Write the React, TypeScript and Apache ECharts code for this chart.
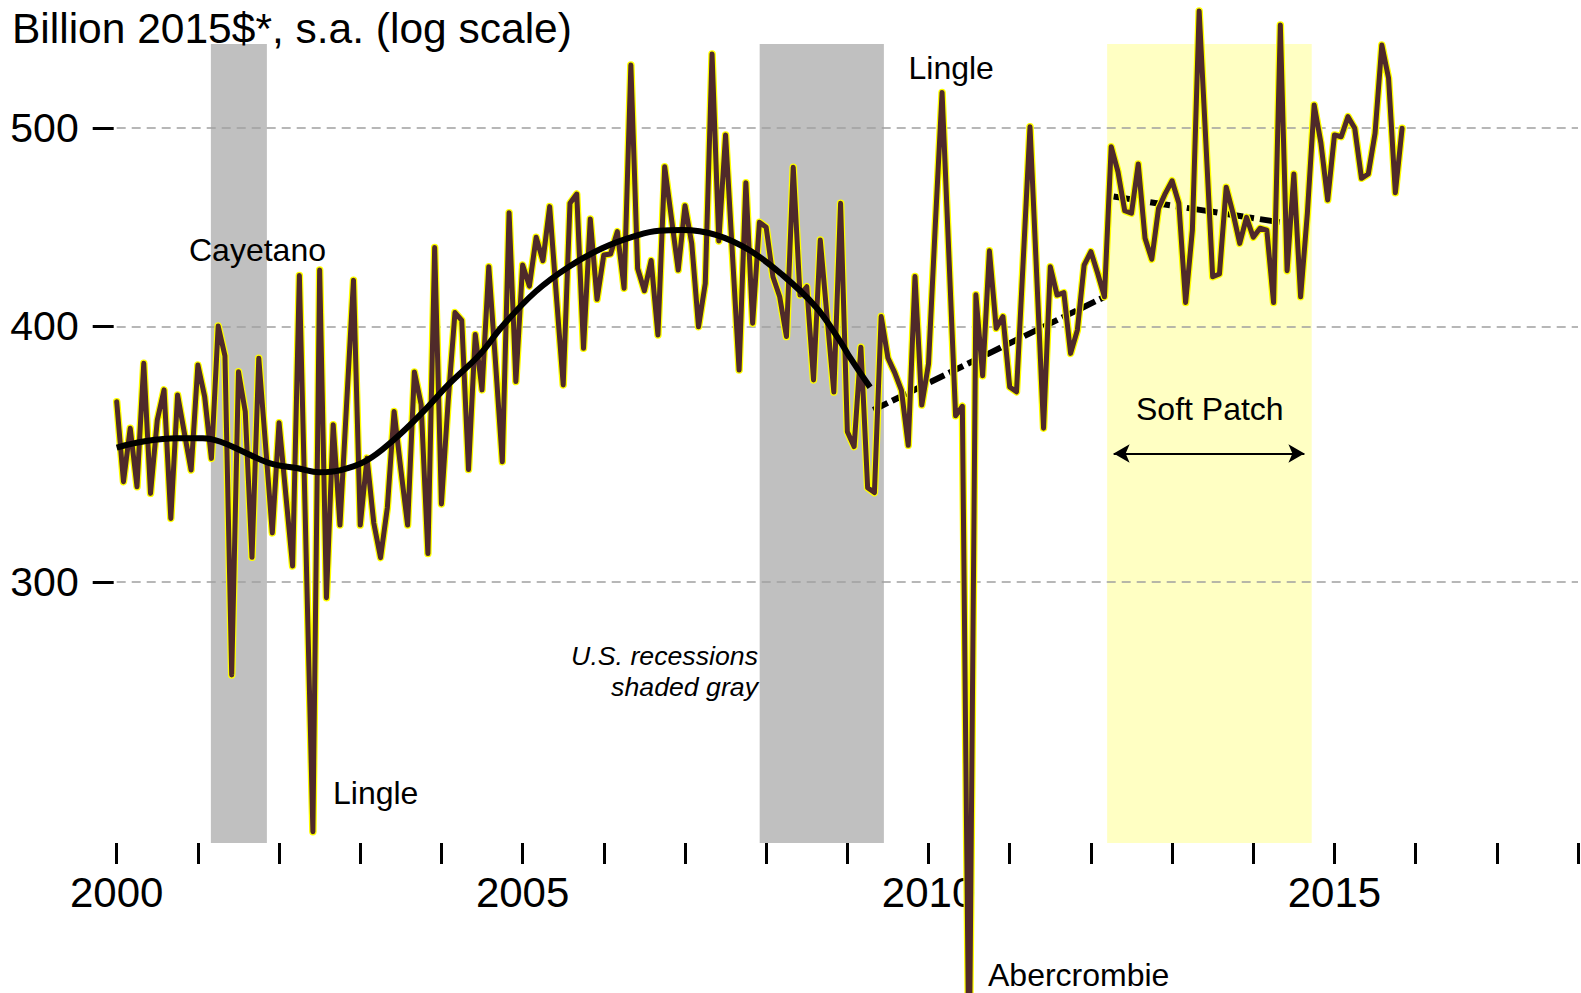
import React, { useEffect, useRef } from "react";
import * as echarts from "echarts";

// Monthly values, Jan 2000 .. Nov 2015 (billion 2015$, s.a.)
const START_YEAR = 2000;
const spending = [
  367.5, 335.9, 356.7, 334.0, 383.7, 331.5, 360.0, 372.4, 322.3, 370.3,
  354.8, 340.3, 383.0, 369.6, 344.8, 400.1, 386.9, 270.3, 380.1, 363.4,
  308.5, 385.9, 350.0, 317.1, 358.9, 330.9, 305.5, 423.5, 310.0, 226.6,
  426.1, 294.8, 358.1, 319.9, 367.4, 421.3, 319.9, 344.9, 320.6, 308.4,
  326.1, 363.5, 340.5, 319.9, 380.0, 366.3, 309.8, 437.0, 327.6, 367.9,
  406.2, 402.7, 340.5, 396.3, 372.4, 427.7, 383.8, 343.5, 454.5, 375.9,
  428.5, 418.5, 442.1, 430.6, 457.6, 413.5, 374.5, 459.3, 464.1, 390.2,
  451.3, 412.3, 433.4, 433.9, 444.9, 417.5, 536.6, 426.9, 416.3, 430.7,
  396.1, 478.6, 451.6, 426.1, 458.1, 439.1, 399.8, 419.8, 543.3, 440.3,
  496.0, 434.5, 380.8, 470.1, 401.4, 449.6, 447.1, 422.9, 413.5, 395.4,
  478.3, 414.3, 418.2, 376.6, 440.7, 404.3, 371.5, 459.3, 355.3, 349.4,
  390.7, 333.6, 331.8, 404.4, 386.0, 379.7, 372.2, 349.9, 423.0, 366.1,
  383.5, 448.2, 520.3, 433.9, 361.7, 365.6, 170.0, 414.4, 378.4, 435.4,
  399.1, 404.4, 373.6, 371.6, 431.0, 500.6, 422.9, 356.7, 427.7, 414.3,
  415.4, 388.0, 398.3, 428.5, 435.0, 424.6, 413.5, 489.5, 475.9, 455.5,
  454.2, 480.1, 441.6, 431.3, 456.7, 464.5, 471.1, 459.3, 410.8, 445.7,
  570.2, 491.5, 422.9, 424.2, 467.7, 454.3, 439.1, 452.1, 442.1, 446.6,
  445.7, 410.8, 561.3, 425.8, 474.7, 413.5, 454.3, 513.0, 491.5, 461.0,
  496.0, 495.0, 506.3, 499.7, 472.4, 474.7, 496.9, 548.8, 528.6, 464.8, 499.7,
];

// Smooth trend, 2000 .. mid 2009
const trendYears = [
  2000.0, 2000.33, 2000.74, 2001.06, 2001.27, 2001.56, 2001.88, 2002.23, 2002.5,
  2002.75, 2003.07, 2003.4, 2003.77, 2004.1, 2004.47, 2004.75, 2005.16, 2005.57,
  2005.98, 2006.39, 2006.68, 2006.97, 2007.38, 2007.79, 2008.2, 2008.61, 2008.89,
  2009.01, 2009.28,
];
const trendValues = [
  349.0, 351.4, 352.7, 352.7, 351.4, 347.4, 343.0, 341.0, 339.5,
  340.2, 343.8, 351.7, 363.2, 375.1, 387.4, 400.0, 415.9, 427.7,
  436.7, 442.8, 445.4, 445.7, 443.3, 435.8, 423.8, 408.9, 394.5,
  387.5, 373.5,
];
// Recovery trend (dashed)
const recoveryYears = [2009.32, 2012.17];
const recoveryValues = [364.1, 413.5];
// Soft patch trend (dash-dot)
const softYears = [2012.28, 2014.37];
const softValues = [462.8, 449.4];

const recessions = [
  [2001.16, 2001.85],
  [2007.92, 2009.45],
];
const softPatch = [2012.2, 2014.72];
const arrowYears = [2012.28, 2014.63];
const arrowValue = 346.7;

const yTicks = [300, 400, 500];
const xLabelYears = [2000, 2005, 2010, 2015];

const FONT = "'Liberation Sans', Arial, Helvetica, sans-serif";

function txt(text: string, x: number, y: number, size: number, align = "left", italic = false) {
  return {
    type: "text",
    x,
    y,
    z: 10,
    silent: true,
    style: {
      text,
      fontSize: size,
      fontFamily: FONT,
      fontStyle: italic ? "italic" : "normal",
      fill: "#000",
      align,
      verticalAlign: "middle",
      textAlign: align,
      textVerticalAlign: "middle",
    },
  };
}

export default function App() {
  const ref = useRef<HTMLDivElement>(null);

  useEffect(() => {
    document.body.style.margin = "0";
    const chart = echarts.init(ref.current as HTMLDivElement, null, { renderer: "svg" });

    const dataPts = spending.map((v, i) => [START_YEAR + i / 12, v]);
    const trendPts = trendYears.map((y, i) => [y, trendValues[i]]);
    const recoveryPts = recoveryYears.map((y, i) => [y, recoveryValues[i]]);
    const softPts = softYears.map((y, i) => [y, softValues[i]]);

    const option: any = {
      animation: false,
      backgroundColor: "#ffffff",
      grid: { left: 116.7, right: 0, top: 44, bottom: 150, containLabel: false },
      xAxis: {
        type: "value",
        min: 2000,
        max: 2018,
        interval: 1,
        axisLine: { show: false },
        axisTick: { show: true, length: 21, lineStyle: { color: "#000", width: 3 } },
        axisLabel: {
          margin: 28,
          fontSize: 42,
          color: "#000",
          fontFamily: FONT,
          showMaxLabel: true,
          showMinLabel: true,
          formatter: (v: number) => (xLabelYears.indexOf(Math.round(v)) >= 0 ? String(Math.round(v)) : ""),
        },
        splitLine: { show: false },
      },
      yAxis: {
        type: "log",
        logBase: 10,
        min: 223.76,
        max: 549.4,
        offset: 3,
        axisLine: { show: false },
        axisTick: { show: true, length: 21, customValues: yTicks, lineStyle: { color: "#000", width: 3 } },
        axisLabel: {
          customValues: yTicks,
          margin: 35,
          fontSize: 41,
          color: "#000",
          fontFamily: FONT,
          padding: [0, 0, 8, 0],
          formatter: (v: number) => String(Math.round(v)),
        },
        splitLine: { show: true, lineStyle: { color: "#a0a0a0", width: 1.5, type: [9, 6] } },
      },
      graphic: [
        txt("Billion 2015$*, s.a. (log scale)", 12, 28, 42.5),
        txt("Cayetano", 189, 250, 32),
        txt("Lingle", 333, 793, 32),
        txt("Lingle", 908.5, 67.5, 32),
        txt("Abercrombie", 988, 975, 32),
        txt("Soft Patch", 1136, 409, 32),
        txt("U.S. recessions", 758, 656, 26.7, "right", true),
        txt("shaded gray", 758, 687, 26.7, "right", true),
      ],
      series: [
        {
          type: "line",
          name: "bands",
          data: [],
          silent: true,
          markArea: {
            silent: true,
            z: -1,
            data: [
              [{ xAxis: recessions[0][0], itemStyle: { color: "#c0c0c0" } }, { xAxis: recessions[0][1] }],
              [{ xAxis: recessions[1][0], itemStyle: { color: "#c0c0c0" } }, { xAxis: recessions[1][1] }],
              [{ xAxis: softPatch[0], itemStyle: { color: "#ffffc3" } }, { xAxis: softPatch[1] }],
            ],
          },
        },
        {
          type: "line",
          name: "recovery",
          data: recoveryPts,
          symbol: "none",
          clip: false,
          z: 2,
          lineStyle: { color: "#000", width: 6, type: [16, 5] },
          markLine: {
            silent: true,
            symbol: ["arrow", "arrow"],
            symbolSize: [14, 16],
            label: { show: false },
            lineStyle: { color: "#000", width: 2, type: "solid" },
            data: [[{ coord: [arrowYears[0], arrowValue] }, { coord: [arrowYears[1], arrowValue] }]],
          },
        },
        {
          type: "line",
          name: "soft",
          data: softPts,
          symbol: "none",
          clip: false,
          z: 2,
          lineStyle: { color: "#000", width: 6, type: [20, 6, 5, 6] },
        },
        {
          type: "line",
          name: "outline",
          data: dataPts,
          symbol: "none",
          clip: false,
          z: 3,
          lineStyle: { color: "#ffff00", width: 7.5, join: "round", cap: "round" },
        },
        {
          type: "line",
          name: "spending",
          data: dataPts,
          symbol: "none",
          clip: false,
          z: 4,
          lineStyle: { color: "#4f2a2a", width: 5, join: "round", cap: "round" },
        },
        {
          type: "line",
          name: "trend",
          data: trendPts,
          smooth: 0.4,
          symbol: "none",
          clip: false,
          z: 5,
          lineStyle: { color: "#000", width: 6 },
        },
      ],
    };

    chart.setOption(option);
    return () => chart.dispose();
  }, []);

  return (
    <div
      ref={ref}
      style={{ position: "fixed", left: 0, top: 0, width: 1581, height: 993, background: "#fff" }}
    />
  );
}
